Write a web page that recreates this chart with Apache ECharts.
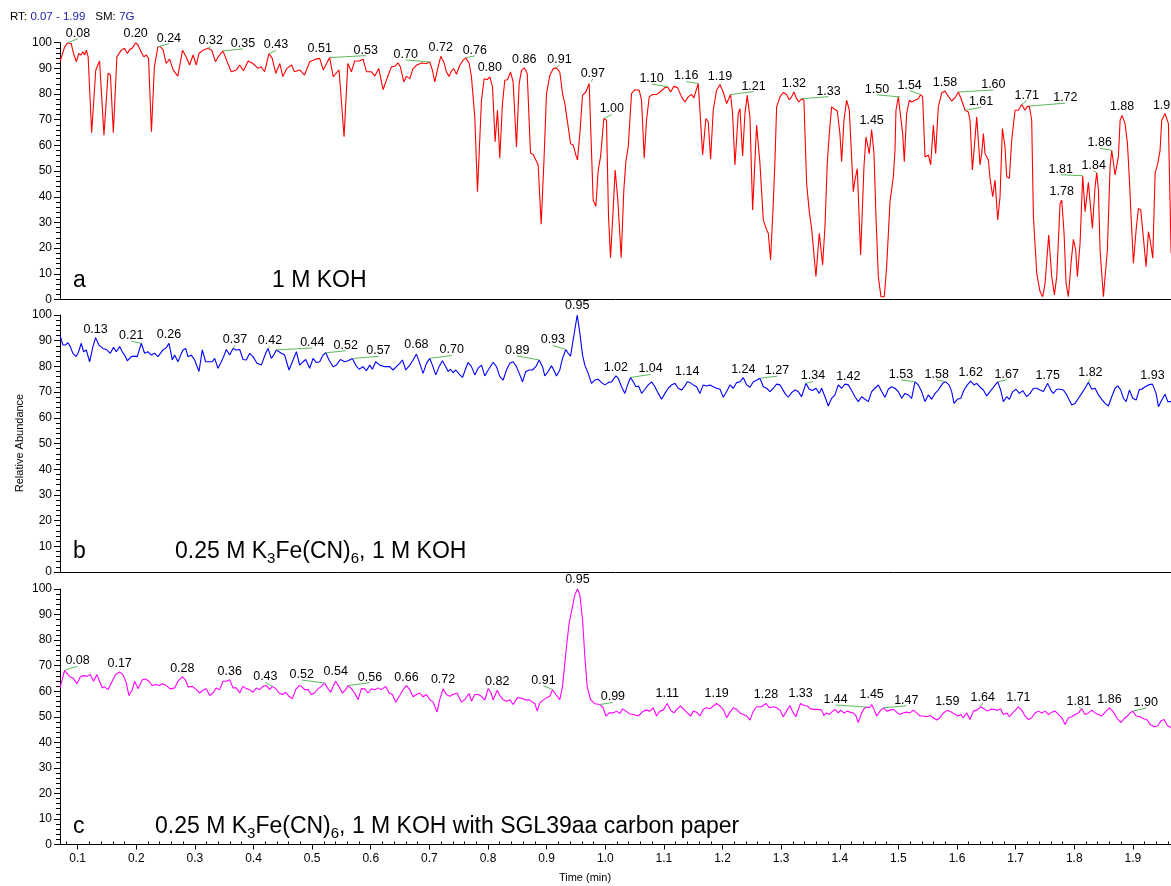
<!DOCTYPE html>
<html>
<head>
<meta charset="utf-8">
<script src="https://cdn.jsdelivr.net/npm/echarts@6/dist/echarts.min.js"></script>
<style>
  html, body { margin: 0; padding: 0; background: #fff; }
  #chart { width: 1171px; height: 886px; }
</style>
</head>
<body>
<div id="chart"></div>
<script>
// Retention time window shown on the time axis (min)
const X_MIN = 0.07;
const X_MAX = 1.965;

// Time-axis tick labels (min)
const xTickValues = [0.1, 0.2, 0.3, 0.4, 0.5, 0.6, 0.7, 0.8, 0.9, 1.0, 1.1, 1.2, 1.3, 1.4, 1.5, 1.6, 1.7, 1.8, 1.9];

// Trace a: 1 M KOH  [time (min), relative abundance (%)]
const traceA = [
  [0.070, 92.6],[0.078, 98.4],[0.0835, 100],[0.089, 99.7],[0.093, 95.8],[0.098, 92.6],[0.102, 95.8],[0.106, 95.2],
  [0.109, 96.5],[0.112, 95.2],[0.115, 97.1],[0.118, 94.5],[0.124, 64.9],[0.131, 89.4],[0.1375, 92.9],[0.145, 64.0],
  [0.152, 88.1],[0.156, 87.4],[0.161, 64.9],[0.167, 94.5],[0.1745, 97.1],[0.180, 97.8],[0.185, 95.8],[0.189, 97.4],
  [0.193, 97.8],[0.199, 100],[0.203, 99.1],[0.209, 96.1],[0.213, 94.5],[0.217, 95.2],[0.221, 93.9],[0.226, 65.3],
  [0.231, 90.6],[0.237, 98.4],[0.2415, 98.4],[0.246, 97.1],[0.251, 91.9],[0.257, 93.6],[0.263, 89.4],[0.271, 87.0],
  [0.279, 97.1],[0.285, 94.5],[0.291, 91.3],[0.297, 95.2],[0.3025, 91.3],[0.307, 95.8],[0.314, 97.1],[0.322, 97.8],
  [0.329, 97.1],[0.335, 92.6],[0.342, 95.2],[0.348, 96.8],[0.354, 93.2],[0.362, 88.7],[0.371, 89.4],[0.3765, 91.3],
  [0.383, 89.1],[0.391, 92.9],[0.399, 91.9],[0.408, 90.0],[0.413, 90.6],[0.419, 88.7],[0.4265, 95.8],[0.432, 93.9],
  [0.438, 88.1],[0.445, 91.9],[0.450, 86.8],[0.457, 90.0],[0.465, 91.3],[0.470, 88.7],[0.479, 89.4],[0.487, 87.4],
  [0.496, 92.6],[0.506, 93.6],[0.513, 93.9],[0.519, 89.4],[0.530, 94.2],[0.536, 86.8],[0.541, 88.1],[0.546, 89.4],
  [0.5545, 63.4],[0.561, 91.9],[0.567, 88.7],[0.5727, 92.9],[0.581, 92.9],[0.587, 93.6],[0.5926, 88.7],[0.601, 88.7],
  [0.607, 87.0],[0.6137, 90.0],[0.621, 81.7],[0.6296, 87.3],[0.6353, 90.6],[0.641, 90.8],[0.6466, 92.1],[0.6506, 90.6],
  [0.6563, 84.7],[0.6609, 86.9],[0.6666, 86.0],[0.6722, 89.9],[0.6779, 91.2],[0.6865, 92.1],[0.695, 91.9],[0.7007, 92.5],
  [0.7052, 89.3],[0.7092, 84.7],[0.7149, 90.6],[0.7195, 94.7],[0.7246, 92.5],[0.7291, 88.6],[0.7337, 86.9],[0.7377, 89.0],
  [0.7417, 89.9],[0.7462, 87.7],[0.7519, 91.2],[0.7576, 93.2],[0.7622, 94.1],[0.7679, 91.9],[0.7718, 86.7],[0.7775, 71.1],
  [0.7821, 42.0],[0.7889, 77.6],[0.7935, 86.0],[0.7986, 85.6],[0.8031, 86.7],[0.8077, 82.8],[0.8122, 61.4],[0.8162, 73.7],
  [0.8201, 55.0],[0.8247, 76.3],[0.8287, 85.4],[0.8333, 85.6],[0.8384, 88.6],[0.8429, 84.7],[0.8486, 59.4],[0.8532, 84.1],
  [0.8572, 89.3],[0.8618, 90.2],[0.8669, 88.0],[0.8725, 57.0],[0.8771, 56.5],[0.8816, 54.3],[0.8856, 52.4],[0.8907, 29.3],
  [0.8953, 53.0],[0.8998, 80.2],[0.9055, 87.3],[0.9112, 89.9],[0.9168, 90.2],[0.9225, 88.6],[0.9271, 80.2],[0.9311, 76.3],
  [0.9368, 67.2],[0.9408, 60.7],[0.9454, 60.1],[0.9498, 56.3],[0.9527, 54.3],[0.9567, 64.6],[0.9612, 79.5],[0.9669, 80.8],
  [0.9726, 84.1],[0.9754, 84.7],[0.9794, 38.7],[0.984, 36.2],[0.988, 50.4],[0.992, 55.6],[0.9976, 70.5],[1.0021, 69.8],
  [1.0056, 32.3],[1.009, 16.3],[1.0135, 34.9],[1.0169, 50.4],[1.0215, 38.7],[1.0272, 16.3],[1.0317, 42.6],[1.0352, 53.7],
  [1.0392, 59.4],[1.0448, 80.2],[1.0505, 81.7],[1.0579, 81.5],[1.0619, 77.6],[1.0665, 55.0],[1.0704, 69.8],[1.075, 78.9],
  [1.0807, 79.8],[1.0875, 79.8],[1.0932, 80.8],[1.1017, 82.5],[1.1063, 82.8],[1.1114, 80.8],[1.1171, 83.0],[1.1234, 82.5],
  [1.1302, 78.9],[1.1358, 76.9],[1.1415, 78.9],[1.1472, 79.9],[1.1512, 78.5],[1.1586, 84.1],[1.1615, 73.7],[1.1661, 56.3],
  [1.1717, 70.5],[1.1757, 69.2],[1.1797, 54.6],[1.1842, 73.7],[1.1899, 81.5],[1.1956, 83.7],[1.2013, 80.8],[1.207, 76.3],
  [1.2138, 79.8],[1.2172, 72.4],[1.2212, 52.4],[1.2269, 72.4],[1.2298, 74.3],[1.2343, 55.9],[1.2383, 72.4],[1.2422, 79.5],
  [1.2468, 71.1],[1.2514, 34.9],[1.2582, 67.9],[1.2639, 53.0],[1.2696, 31.0],[1.2753, 27.1],[1.2781, 25.8],[1.282, 15.4],
  [1.2866, 37.4],[1.2895, 54.3],[1.2923, 75.0],[1.298, 78.9],[1.3036, 80.6],[1.3093, 79.8],[1.3139, 77.8],[1.3179, 78.9],
  [1.3218, 80.8],[1.3264, 78.2],[1.3304, 76.9],[1.3349, 78.2],[1.3389, 77.6],[1.3435, 45.2],[1.348, 34.2],[1.352, 27.7],
  [1.3548, 27.7],[1.3594, 8.9],[1.3651, 25.8],[1.3708, 13.5],[1.3748, 28.4],[1.3787, 53.0],[1.3822, 64.6],[1.3861, 75.0],
  [1.3901, 74.3],[1.3958, 73.4],[1.4003, 64.6],[1.4032, 53.7],[1.4072, 69.8],[1.4117, 77.6],[1.4163, 73.7],[1.4231, 42.0],
  [1.4259, 46.5],[1.4299, 51.0],[1.4356, 17.3],[1.4413, 51.7],[1.4447, 63.3],[1.4504, 56.8],[1.4544, 66.2],[1.4584, 56.8],
  [1.4618, 32.3],[1.4658, 8.9],[1.4703, 1.1],[1.476, 1.1],[1.48, 12.8],[1.4857, 38.1],[1.4914, 47.8],[1.4942, 58.0],
  [1.4959, 73.7],[1.4999, 78.9],[1.5027, 78.9],[1.5073, 64.6],[1.5101, 53.7],[1.5141, 72.4],[1.5187, 77.6],[1.5226, 76.9],
  [1.5283, 77.6],[1.534, 78.2],[1.538, 79.8],[1.5414, 78.9],[1.5454, 55.5],[1.5511, 56.3],[1.5551, 52.4],[1.5596, 67.9],
  [1.5636, 56.8],[1.5681, 75.0],[1.5738, 80.4],[1.5795, 81.2],[1.5852, 79.1],[1.5909, 77.3],[1.5966, 78.6],[1.6023, 80.8],
  [1.608, 77.6],[1.6137, 73.7],[1.6193, 73.0],[1.6222, 69.8],[1.6262, 50.4],[1.629, 58.0],[1.6336, 71.1],[1.6364, 62.0],
  [1.6393, 52.4],[1.6421, 56.9],[1.645, 64.6],[1.6478, 56.8],[1.6535, 54.3],[1.6563, 47.2],[1.6609, 40.0],[1.6649, 46.5],
  [1.6694, 31.0],[1.6734, 40.0],[1.6774, 66.6],[1.6819, 59.4],[1.6848, 47.8],[1.6893, 47.2],[1.6933, 62.0],[1.699, 73.7],
  [1.7047, 73.7],[1.7104, 75.9],[1.716, 73.7],[1.7189, 75.0],[1.7234, 75.3],[1.7274, 69.8],[1.7303, 32.3],[1.736, 10.2],
  [1.7416, 3.1],[1.7462, 1.1],[1.7502, 6.3],[1.7564, 25.1],[1.7616, 8.9],[1.7661, 1.8],[1.7701, 8.9],[1.7758, 37.4],
  [1.7786, 38.7],[1.7826, 25.8],[1.786, 6.3],[1.79, 1.1],[1.7945, 14.1],[1.7985, 23.4],[1.8025, 19.3],[1.8053, 8.9],
  [1.8099, 21.9],[1.8144, 48.2],[1.8184, 34.2],[1.8213, 34.2],[1.8241, 45.6],[1.827, 45.2],[1.8309, 27.7],[1.8355, 43.9],
  [1.8383, 49.4],[1.8412, 42.6],[1.844, 19.3],[1.8497, 1.1],[1.8526, 1.8],[1.8565, 19.3],[1.8611, 51.7],[1.8639, 58.1],
  [1.8696, 48.5],[1.8753, 55.6],[1.8782, 69.8],[1.8816, 71.7],[1.8867, 68.5],[1.8907, 60.7],[1.8941, 46.5],[1.8969, 32.3],
  [1.9009, 14.1],[1.9055, 27.1],[1.9094, 35.5],[1.9134, 34.9],[1.918, 23.8],[1.9225, 12.8],[1.9265, 26.4],[1.9294, 23.2],
  [1.9339, 16.1],[1.9379, 49.1],[1.9425, 53.0],[1.9464, 58.2],[1.9492, 69.8],[1.9549, 72.4],[1.9606, 68.5],[1.9652, 18.0]
];

// Trace b: 0.25 M K3Fe(CN)6, 1 M KOH
const traceB = [
  [0.070, 92.2],[0.075, 88.3],[0.079, 88.3],[0.0835, 89.2],[0.0875, 87.7],[0.092, 85.1],[0.0977, 83.8],[0.1017, 85.7],
  [0.1063, 89.0],[0.1102, 85.7],[0.1148, 86.4],[0.1205, 81.8],[0.1262, 87.7],[0.1307, 91.2],[0.1364, 88.3],[0.1432, 87.0],
  [0.1489, 86.6],[0.1557, 85.1],[0.1614, 87.4],[0.166, 85.7],[0.1717, 87.7],[0.1762, 85.7],[0.1802, 84.4],[0.1848, 82.2],
  [0.1916, 83.8],[0.1973, 84.0],[0.2018, 83.8],[0.2086, 89.0],[0.2143, 85.1],[0.22, 85.7],[0.2257, 84.4],[0.2314, 85.1],
  [0.2371, 83.8],[0.2456, 86.4],[0.2513, 87.3],[0.2559, 89.0],[0.2615, 82.5],[0.2655, 84.4],[0.2712, 81.8],[0.2758, 84.4],
  [0.2798, 86.4],[0.2843, 87.0],[0.2883, 83.8],[0.294, 84.4],[0.2997, 82.5],[0.3071, 78.0],[0.3127, 86.4],[0.3184, 81.8],
  [0.3241, 81.8],[0.3298, 81.8],[0.3338, 83.1],[0.3395, 79.3],[0.3452, 81.8],[0.3491, 83.8],[0.3537, 86.6],[0.3594, 84.4],
  [0.3651, 87.0],[0.3708, 86.4],[0.3765, 86.6],[0.3821, 82.7],[0.3878, 82.5],[0.3935, 85.1],[0.3992, 83.8],[0.406, 81.2],
  [0.4134, 80.5],[0.4208, 85.1],[0.4248, 87.0],[0.4305, 83.1],[0.4345, 84.4],[0.439, 86.4],[0.4476, 85.1],[0.4532, 84.4],
  [0.4606, 78.6],[0.4663, 81.8],[0.4732, 85.7],[0.4788, 80.5],[0.4845, 81.8],[0.4891, 82.7],[0.4959, 79.3],[0.5016, 83.1],
  [0.5073, 81.5],[0.513, 81.8],[0.5187, 84.4],[0.5232, 85.3],[0.5289, 82.5],[0.5357, 79.9],[0.5414, 80.5],[0.5482, 82.7],
  [0.5556, 81.8],[0.5613, 82.2],[0.5687, 83.1],[0.5744, 80.5],[0.5801, 78.9],[0.5869, 79.9],[0.5926, 78.3],[0.5983, 80.5],
  [0.6028, 78.9],[0.6085, 81.8],[0.6154, 80.5],[0.6239, 79.9],[0.6324, 79.9],[0.6381, 78.6],[0.6438, 79.9],[0.6495, 81.2],
  [0.6541, 82.5],[0.6598, 78.6],[0.6666, 80.5],[0.6722, 82.5],[0.6779, 84.8],[0.6836, 81.2],[0.6893, 77.3],[0.695, 81.2],
  [0.7007, 83.1],[0.7052, 80.5],[0.7109, 76.7],[0.7166, 79.9],[0.7223, 82.2],[0.728, 79.9],[0.732, 78.0],[0.736, 78.9],
  [0.7405, 77.6],[0.7451, 78.6],[0.7508, 77.0],[0.7565, 75.7],[0.7622, 79.3],[0.7662, 81.5],[0.7718, 79.9],[0.7775, 76.7],
  [0.7832, 79.3],[0.7889, 80.5],[0.7946, 76.3],[0.8003, 78.6],[0.8088, 81.6],[0.8145, 79.9],[0.8202, 76.0],[0.8259, 74.7],
  [0.8315, 78.6],[0.8372, 81.2],[0.8429, 81.8],[0.8486, 79.9],[0.8543, 76.7],[0.8588, 74.0],[0.8645, 78.0],[0.8702, 78.6],
  [0.8759, 78.6],[0.8816, 79.9],[0.8873, 82.5],[0.893, 79.9],[0.8969, 76.3],[0.9026, 78.0],[0.9083, 80.2],[0.9123, 78.6],
  [0.9168, 76.3],[0.9225, 78.6],[0.9271, 83.1],[0.9328, 86.6],[0.9368, 85.1],[0.9408, 84.0],[0.9453, 90.3],[0.9522, 100],
  [0.9567, 92.9],[0.9613, 84.4],[0.9652, 80.5],[0.9709, 77.3],[0.9766, 73.4],[0.9823, 74.7],[0.988, 75.0],[0.9937, 73.7],
  [0.9994, 72.8],[1.0051, 73.7],[1.0108, 74.0],[1.0181, 76.3],[1.0221, 75.4],[1.0278, 72.1],[1.0335, 69.5],[1.0381, 72.8],
  [1.0432, 75.7],[1.0477, 74.0],[1.0523, 72.1],[1.0569, 72.4],[1.062, 69.5],[1.0677, 71.1],[1.0734, 72.8],[1.0791, 74.0],
  [1.0848, 72.1],[1.0905, 69.5],[1.0961, 67.2],[1.1018, 69.5],[1.1075, 71.5],[1.1132, 72.8],[1.1189, 73.4],[1.1246, 71.5],
  [1.1302, 70.8],[1.1359, 72.4],[1.1399, 74.0],[1.1445, 73.7],[1.1502, 72.8],[1.1559, 72.1],[1.1615, 69.5],[1.1672, 72.8],
  [1.1729, 72.4],[1.1786, 72.8],[1.1843, 72.1],[1.19, 71.5],[1.1957, 71.1],[1.2014, 68.0],[1.2071, 70.2],[1.2127, 72.8],
  [1.2184, 71.5],[1.2241, 73.7],[1.2298, 74.0],[1.2355, 75.6],[1.2412, 72.8],[1.2469, 71.9],[1.2526, 74.0],[1.2582, 74.6],
  [1.2639, 75.4],[1.2696, 72.1],[1.2753, 71.5],[1.281, 70.2],[1.2867, 71.5],[1.2924, 73.1],[1.2981, 72.8],[1.3008, 72.4],
  [1.3065, 69.5],[1.3122, 68.0],[1.3179, 69.8],[1.3236, 70.8],[1.3292, 70.2],[1.3349, 68.2],[1.3423, 73.4],[1.348, 71.1],
  [1.3537, 70.6],[1.3594, 71.5],[1.3651, 69.5],[1.3691, 71.5],[1.3748, 68.2],[1.3804, 64.6],[1.3861, 67.6],[1.3918, 68.9],
  [1.3975, 72.8],[1.4032, 71.5],[1.4089, 73.1],[1.4146, 72.8],[1.4203, 70.6],[1.4259, 68.2],[1.4316, 66.3],[1.4373, 68.2],
  [1.443, 67.2],[1.4487, 66.3],[1.4544, 70.2],[1.4601, 71.5],[1.4658, 72.8],[1.4715, 70.2],[1.4771, 68.0],[1.4828, 71.1],
  [1.4885, 72.1],[1.4942, 71.5],[1.4999, 70.2],[1.5056, 67.6],[1.5113, 69.5],[1.517, 68.9],[1.5226, 67.6],[1.5283, 74.0],
  [1.534, 72.8],[1.5397, 70.2],[1.5454, 66.3],[1.5511, 68.9],[1.5568, 67.2],[1.5625, 69.5],[1.5681, 70.8],[1.5756, 73.4],
  [1.5807, 74.0],[1.5864, 72.8],[1.5909, 70.2],[1.5949, 65.6],[1.6006, 67.2],[1.6063, 67.6],[1.612, 70.8],[1.6176, 72.8],
  [1.6233, 74.3],[1.629, 72.8],[1.6336, 73.4],[1.6393, 71.9],[1.645, 70.8],[1.6506, 68.5],[1.6563, 70.2],[1.662, 71.9],
  [1.6694, 74.0],[1.6745, 70.8],[1.6791, 66.3],[1.6848, 68.2],[1.6893, 67.2],[1.695, 70.2],[1.7007, 71.1],[1.7064, 69.5],
  [1.7121, 70.6],[1.7189, 68.2],[1.7246, 69.5],[1.7303, 71.5],[1.736, 71.5],[1.7416, 70.8],[1.7473, 70.2],[1.7547, 73.4],
  [1.7604, 70.6],[1.7644, 69.5],[1.7701, 71.1],[1.7758, 71.1],[1.7815, 70.8],[1.7872, 68.9],[1.7957, 65.0],[1.8014, 65.6],
  [1.8071, 67.6],[1.8127, 69.5],[1.8184, 71.5],[1.8241, 73.8],[1.8298, 71.1],[1.8355, 71.5],[1.8412, 68.9],[1.8469, 67.2],
  [1.8526, 65.6],[1.8582, 64.6],[1.8639, 68.2],[1.8696, 71.5],[1.8742, 72.4],[1.8793, 70.8],[1.8838, 67.6],[1.8884, 66.3],
  [1.8941, 70.8],[1.8998, 67.6],[1.9055, 66.9],[1.9112, 71.1],[1.9151, 71.1],[1.9197, 71.9],[1.9265, 72.8],[1.9333, 73.1],
  [1.9396, 69.5],[1.9436, 64.3],[1.9492, 66.9],[1.9549, 69.2],[1.9595, 66.3],[1.9652, 66.3]
];

// Trace c: 0.25 M K3Fe(CN)6, 1 M KOH with SGL39aa carbon paper
const traceC = [
  [0.070, 61.3],[0.0738, 64.5],[0.0778, 68.2],[0.0835, 66.5],[0.0875, 65.6],[0.092, 65.2],[0.0989, 62.9],[0.1046, 65.6],
  [0.1102, 66.1],[0.1159, 65.8],[0.1216, 66.5],[0.1273, 63.9],[0.133, 66.5],[0.1375, 63.9],[0.1421, 61.3],[0.1461, 61.7],
  [0.1518, 60.6],[0.1575, 63.2],[0.1648, 66.5],[0.1717, 67.5],[0.1774, 66.5],[0.1831, 63.2],[0.1876, 58.3],[0.1933, 60.6],
  [0.1973, 63.9],[0.203, 61.0],[0.2104, 64.5],[0.216, 64.8],[0.2217, 63.9],[0.2274, 62.2],[0.2331, 62.6],[0.2388, 62.2],
  [0.2445, 62.9],[0.2513, 62.2],[0.2581, 60.9],[0.2655, 61.3],[0.2712, 63.9],[0.2786, 65.6],[0.2843, 64.3],[0.2883, 61.7],
  [0.2957, 61.9],[0.3025, 60.6],[0.3082, 59.3],[0.315, 60.6],[0.3196, 61.0],[0.3253, 58.3],[0.3309, 59.3],[0.3366, 61.3],
  [0.3423, 60.6],[0.348, 63.9],[0.3537, 63.9],[0.3594, 64.5],[0.3651, 61.3],[0.3708, 61.3],[0.3765, 59.3],[0.3821, 61.9],
  [0.3878, 61.0],[0.3935, 60.6],[0.3992, 59.6],[0.4049, 61.3],[0.4106, 60.6],[0.4163, 61.9],[0.422, 62.2],[0.4277, 60.6],
  [0.4322, 61.9],[0.4379, 61.0],[0.4436, 59.3],[0.4493, 58.7],[0.455, 59.6],[0.4606, 58.0],[0.4663, 57.0],[0.472, 60.6],
  [0.4777, 62.2],[0.4817, 61.9],[0.4874, 60.6],[0.4931, 60.6],[0.4988, 58.7],[0.5044, 59.3],[0.5101, 60.9],[0.5158, 61.9],
  [0.5215, 63.2],[0.5261, 61.3],[0.5318, 59.6],[0.5357, 61.9],[0.5403, 63.9],[0.546, 61.7],[0.5517, 59.3],[0.5573, 60.6],
  [0.5613, 62.2],[0.567, 61.0],[0.5727, 59.3],[0.5784, 56.7],[0.5841, 61.0],[0.5898, 60.9],[0.5955, 59.3],[0.6011, 60.9],
  [0.6068, 60.6],[0.6125, 61.3],[0.6182, 60.6],[0.6256, 61.9],[0.6313, 59.3],[0.637, 58.7],[0.6427, 55.7],[0.6495, 58.3],
  [0.6552, 60.6],[0.6609, 62.2],[0.6666, 60.6],[0.6722, 57.8],[0.6779, 58.7],[0.6836, 59.3],[0.6893, 57.8],[0.695, 58.7],
  [0.7007, 56.7],[0.7064, 55.7],[0.7132, 51.8],[0.7177, 56.7],[0.7234, 60.9],[0.7291, 58.7],[0.7348, 58.0],[0.7405, 58.7],
  [0.7473, 59.3],[0.7547, 55.7],[0.7604, 56.7],[0.7678, 59.1],[0.7718, 56.1],[0.7775, 58.7],[0.7832, 58.7],[0.7889, 58.0],
  [0.7946, 56.5],[0.8003, 61.0],[0.8048, 59.6],[0.8088, 56.5],[0.8157, 60.4],[0.8202, 58.3],[0.8259, 56.7],[0.8315, 56.1],
  [0.8372, 56.7],[0.8429, 54.8],[0.8498, 57.4],[0.8543, 57.4],[0.86, 57.0],[0.8657, 56.5],[0.8702, 56.7],[0.8759, 55.7],
  [0.8799, 55.2],[0.8839, 52.2],[0.8884, 55.4],[0.8941, 56.5],[0.8998, 57.4],[0.9055, 58.0],[0.91, 60.6],[0.9157, 58.7],
  [0.9225, 56.7],[0.9271, 61.9],[0.9339, 77.5],[0.9384, 86.6],[0.9424, 91.2],[0.9481, 97.7],[0.9527, 100],[0.9567, 97.7],
  [0.9613, 87.9],[0.9652, 73.6],[0.9692, 61.9],[0.9749, 56.7],[0.9823, 55.1],[0.9909, 54.8],[0.9966, 53.5],[1.0011, 50.3],
  [1.0068, 51.5],[1.0136, 51.5],[1.0193, 52.2],[1.025, 51.3],[1.0296, 53.1],[1.0353, 52.2],[1.041, 51.2],[1.0478, 50.9],
  [1.0563, 50.3],[1.0648, 52.2],[1.0704, 52.6],[1.0761, 52.2],[1.0818, 53.5],[1.0875, 50.3],[1.0932, 52.2],[1.0989, 52.6],
  [1.1057, 55.2],[1.1114, 52.6],[1.1171, 51.5],[1.1228, 53.1],[1.1285, 54.2],[1.1342, 52.9],[1.1399, 51.5],[1.1456, 50.3],
  [1.1502, 52.2],[1.1559, 51.8],[1.1615, 50.3],[1.1672, 52.9],[1.1729, 53.5],[1.1786, 53.1],[1.1843, 54.2],[1.19, 55.2],
  [1.1957, 54.2],[1.2014, 52.9],[1.2071, 49.6],[1.2127, 51.8],[1.2184, 53.5],[1.2241, 52.9],[1.2298, 51.5],[1.2355, 50.9],
  [1.2412, 50.3],[1.2469, 48.7],[1.2526, 52.2],[1.2582, 53.9],[1.2668, 53.9],[1.2742, 55.2],[1.2799, 53.5],[1.2867, 53.9],
  [1.2924, 53.5],[1.2981, 52.6],[1.3036, 50.0],[1.3093, 52.2],[1.315, 54.4],[1.3207, 51.5],[1.3253, 50.0],[1.3292, 52.9],
  [1.3332, 55.2],[1.3389, 54.4],[1.3446, 54.2],[1.3503, 53.1],[1.3577, 52.9],[1.3634, 52.9],[1.3691, 52.6],[1.373, 50.5],
  [1.3776, 51.5],[1.3822, 50.9],[1.3861, 51.8],[1.3918, 52.9],[1.3975, 51.5],[1.4015, 52.6],[1.4072, 51.5],[1.4129, 52.2],
  [1.4174, 51.8],[1.4231, 51.5],[1.4276, 50.3],[1.4316, 47.7],[1.4373, 51.5],[1.4413, 53.1],[1.4458, 53.8],[1.4504, 53.5],
  [1.4544, 54.8],[1.4584, 52.9],[1.4629, 50.3],[1.4686, 52.2],[1.4743, 53.5],[1.48, 52.2],[1.4857, 52.6],[1.4914, 52.9],
  [1.497, 51.8],[1.5027, 50.9],[1.5084, 51.5],[1.5141, 51.8],[1.5198, 51.5],[1.5255, 52.6],[1.5312, 51.5],[1.5369, 50.3],
  [1.5426, 50.3],[1.5482, 50.0],[1.5539, 50.5],[1.5596, 49.6],[1.5653, 48.7],[1.571, 49.6],[1.5767, 51.5],[1.5835, 52.5],
  [1.5909, 51.8],[1.5966, 50.9],[1.6023, 50.3],[1.6063, 50.9],[1.6108, 49.6],[1.6165, 51.5],[1.6222, 48.9],[1.6279, 52.2],
  [1.6336, 52.6],[1.6404, 53.9],[1.6461, 53.1],[1.6518, 52.2],[1.6575, 52.9],[1.6632, 52.9],[1.6688, 52.5],[1.6745, 53.1],
  [1.6791, 50.9],[1.6848, 51.5],[1.6893, 50.0],[1.695, 51.5],[1.7007, 52.9],[1.7047, 53.9],[1.7104, 52.6],[1.716, 50.3],
  [1.7217, 48.9],[1.7274, 49.6],[1.7331, 51.5],[1.7388, 52.2],[1.7445, 51.5],[1.7502, 52.2],[1.7559, 50.9],[1.7616, 51.8],
  [1.7672, 52.2],[1.7729, 50.9],[1.7786, 49.6],[1.7843, 47.0],[1.79, 49.6],[1.7957, 50.0],[1.8014, 50.9],[1.8071, 51.5],
  [1.8127, 53.1],[1.8184, 50.9],[1.8241, 51.5],[1.8298, 52.6],[1.8355, 51.5],[1.8412, 50.9],[1.8469, 50.3],[1.8526, 51.8],
  [1.86, 53.5],[1.8657, 52.2],[1.8725, 49.6],[1.8793, 47.7],[1.885, 49.2],[1.8907, 50.3],[1.8952, 51.5],[1.8998, 52.2],
  [1.9055, 50.3],[1.9123, 50.0],[1.918, 49.2],[1.9237, 48.9],[1.9294, 47.0],[1.9362, 46.1],[1.9419, 46.4],[1.9476, 48.3],
  [1.9532, 48.9],[1.9589, 46.6],[1.9652, 45.7]
];

// Apex annotations: [label text, apex retention time (min)]
const peaksA = [
  ['0.08', 0.0835], ['0.20', 0.199], ['0.24', 0.237], ['0.32', 0.322], ['0.35', 0.348], ['0.43', 0.4265],
  ['0.51', 0.513], ['0.53', 0.530], ['0.70', 0.7007], ['0.72', 0.7195], ['0.76', 0.7622], ['0.80', 0.8031],
  ['0.86', 0.8618], ['0.91', 0.9168], ['0.97', 0.9754], ['1.00', 0.9976], ['1.10', 1.1063], ['1.16', 1.1586],
  ['1.19', 1.1956], ['1.21', 1.2138], ['1.32', 1.3218], ['1.33', 1.3349], ['1.45', 1.4544], ['1.50', 1.5027],
  ['1.54', 1.538], ['1.58', 1.5795], ['1.60', 1.6023], ['1.61', 1.6137], ['1.71', 1.7104], ['1.72', 1.7234],
  ['1.78', 1.7786], ['1.81', 1.8144], ['1.84', 1.8383], ['1.86', 1.8639], ['1.88', 1.8816], ['1.95', 1.9549]
];
const peaksB = [
  ['0.13', 0.1307], ['0.21', 0.2086], ['0.26', 0.2559], ['0.37', 0.3651], ['0.42', 0.4248], ['0.44', 0.439],
  ['0.52', 0.5232], ['0.57', 0.5687], ['0.68', 0.6779], ['0.70', 0.7007], ['0.89', 0.8873], ['0.93', 0.9328],
  ['0.95', 0.9522], ['1.02', 1.0181], ['1.04', 1.0432], ['1.14', 1.1399], ['1.24', 1.2355], ['1.27', 1.2639],
  ['1.34', 1.3423], ['1.42', 1.4146], ['1.53', 1.5283], ['1.58', 1.5807], ['1.62', 1.6233], ['1.67', 1.6694],
  ['1.75', 1.7547], ['1.82', 1.8241], ['1.93', 1.9333]
];
const peaksC = [
  ['0.08', 0.0778], ['0.17', 0.1717], ['0.28', 0.2786], ['0.36', 0.3594], ['0.43', 0.4322], ['0.52', 0.5215],
  ['0.54', 0.5403], ['0.56', 0.5613], ['0.66', 0.6609], ['0.72', 0.7234], ['0.82', 0.8157], ['0.91', 0.91],
  ['0.95', 0.9527], ['0.99', 0.9909], ['1.11', 1.1057], ['1.19', 1.19], ['1.28', 1.2742], ['1.33', 1.3332],
  ['1.44', 1.4458], ['1.45', 1.4544], ['1.47', 1.4743], ['1.59', 1.5835], ['1.64', 1.6404], ['1.71', 1.7047],
  ['1.81', 1.8127], ['1.86', 1.86], ['1.90', 1.8998]
];

// Label placement: pixel shift of each label's baseline centre from its apex
const labelShiftA = {
  '0.08': [10, -5], '0.20': [0, -5], '0.24': [11, -4], '0.32': [3, -3], '0.35': [20, -3], '0.43': [7, -4],
  '0.51': [0, -5], '0.53': [36, -3], '0.70': [-24, -3], '0.72': [0, -4], '0.76': [9, -3], '0.80': [0, -5],
  '0.86': [0, -4], '0.91': [3, -4], '0.97': [2, -4], '1.00': [8, -5], '1.10': [-16, -4], '1.16': [-12, -3],
  '1.19': [0, -4], '1.21': [23, -4], '1.32': [0, -4], '1.33': [27, -3], '1.45': [0, -4], '1.50': [-23, -3],
  '1.54': [-11, -5], '1.58': [0, -4], '1.60': [35, -3], '1.61': [16, -4], '1.71': [5, -5], '1.72': [36, -4],
  '1.78': [0, -4], '1.81': [-22, -2], '1.84': [-3, -3], '1.86': [-12, -3], '1.88': [0, -4], '1.95': [0, -4]
};
const labelShiftB = {
  '0.13': [0, -4], '0.21': [-10, -3], '0.26': [0, -4], '0.37': [2, -4], '0.42': [2, -3], '0.44': [36, -3],
  '0.52': [20, -3], '0.57': [26, -3], '0.68': [0, -5], '0.70': [22, -4], '0.89': [-22, -5], '0.93': [-13, -5],
  '0.95': [0, -5], '1.02': [0, -4], '1.04': [20, -4], '1.14': [0, -6], '1.24': [0, -4], '1.27': [17, -3],
  '1.34': [7, -3], '1.42': [0, -4], '1.53': [-14, -3], '1.58': [-9, -3], '1.62': [0, -4], '1.67': [9, -3],
  '1.75': [0, -3], '1.82': [2, -5], '1.93': [0, -4]
};
const labelShiftC = {
  '0.08': [13, -5], '0.17': [0, -4], '0.28': [0, -4], '0.36': [0, -4], '0.43': [-7, -5], '0.52': [-23, -4],
  '0.54': [0, -5], '0.56': [22, -4], '0.66': [0, -4], '0.72': [0, -5], '0.82': [0, -4], '0.91': [-9, -5],
  '0.95': [0, -5], '0.99': [13, -3], '1.11': [0, -5], '1.19': [0, -5], '1.28': [0, -4], '1.33': [0, -5],
  '1.44': [-31, -3], '1.45': [0, -5], '1.47': [23, -3], '1.59': [0, -4], '1.64': [2, -5], '1.71': [0, -5],
  '1.81': [-3, -3], '1.86': [0, -4], '1.90': [13, -4]
};

const FONT = "'Liberation Sans', Arial, Helvetica, sans-serif";
const GRIDS = [
  { top: 42.7, height: 256.8 },
  { top: 315, height: 257 },
  { top: 589, height: 255.5 }
];

// Apex point of each annotation, taken from the trace itself
function apexItems(trace, peaks, shifts) {
  return peaks.map(([txt, t]) => {
    let best = trace[0];
    for (const p of trace) if (Math.abs(p[0] - t) < Math.abs(best[0] - t)) best = p;
    const s = shifts[txt] || [0, -4];
    return [best[0], best[1], s[0], s[1]];
  });
}

function apexRenderer(peaks) {
  return function (params, api) {
    const p = api.coord([api.value(0), api.value(1)]);
    const dx = api.value(2), dy = api.value(3);
    const lx = p[0] + dx, ly = p[1] + dy;
    const kids = [];
    if (dx !== 0) {
      kids.push({
        type: 'line',
        shape: { x1: p[0], y1: p[1], x2: lx, y2: ly + 1 },
        style: { stroke: '#5cb85c', lineWidth: 1 }
      });
    }
    kids.push({
      type: 'text',
      x: lx, y: ly + 2,
      style: {
        text: peaks[params.dataIndex][0],
        fill: '#000',
        font: '12.5px ' + FONT,
        align: 'center',
        verticalAlign: 'bottom'
      }
    });
    return { type: 'group', children: kids };
  };
}

const axisLineStyle = { color: '#000', width: 1 };

const xAxes = [0, 1, 2].map(i => ({
  gridIndex: i,
  type: 'value',
  min: X_MIN,
  max: X_MAX,
  axisLine: { show: true, onZero: false, lineStyle: axisLineStyle },
  axisTick: i === 2
    ? { show: true, length: 5, customValues: xTickValues, lineStyle: axisLineStyle }
    : { show: false },
  axisLabel: i === 2
    ? { show: true, customValues: xTickValues, formatter: v => v.toFixed(1),
        color: '#000', fontSize: 12, fontFamily: FONT, margin: 8 }
    : { show: false },
  splitLine: { show: false }
}));

// Minor ticks on the time axis
const minorXTicks = [];
for (let k = 4; k <= 98; k++) if (k % 5 !== 0) minorXTicks.push(k / 50);
xAxes.push({
  gridIndex: 2, type: 'value', min: X_MIN, max: X_MAX,
  axisLine: { show: false },
  axisTick: { show: true, length: 3, customValues: minorXTicks, lineStyle: axisLineStyle },
  axisLabel: { show: false },
  splitLine: { show: false }
});

const yAxes = [0, 1, 2].map(i => ({
  gridIndex: i,
  type: 'value',
  min: 0, max: 100, interval: 10,
  axisLine: { show: true, lineStyle: axisLineStyle },
  axisTick: { show: true, length: 6, lineStyle: axisLineStyle },
  minorTick: { show: true, splitNumber: 5, length: 4, lineStyle: axisLineStyle },
  axisLabel: { color: '#000', fontSize: 12, fontFamily: FONT, margin: 8 },
  splitLine: { show: false }
}));

const traces = [
  { data: traceA, color: '#ff0000', peaks: peaksA, shifts: labelShiftA },
  { data: traceB, color: '#0000ff', peaks: peaksB, shifts: labelShiftB },
  { data: traceC, color: '#ff00ff', peaks: peaksC, shifts: labelShiftC }
];

const series = [];
traces.forEach((tr, i) => {
  series.push({
    type: 'line',
    xAxisIndex: i, yAxisIndex: i,
    data: tr.data,
    showSymbol: false,
    symbol: 'none',
    lineStyle: { color: tr.color, width: 1.1 },
    animation: false,
    z: 2
  });
  series.push({
    type: 'custom',
    xAxisIndex: i, yAxisIndex: i,
    data: apexItems(tr.data, tr.peaks, tr.shifts),
    encode: { x: 0, y: 1 },
    renderItem: apexRenderer(tr.peaks),
    clip: false,
    silent: true,
    animation: false,
    z: 3
  });
});

// Panel captions (sample descriptions), with subscripts
const bigFont = 23;
const richPanel = {
  n: { fontSize: bigFont, fontFamily: FONT, color: '#000', lineHeight: 30 },
  s: { fontSize: 15, fontFamily: FONT, color: '#000', lineHeight: 30, verticalAlign: 'bottom' }
};

function panelText(x, baseline, text) {
  return {
    type: 'text', left: x, top: baseline - 18,
    style: { text: text, rich: richPanel }
  };
}

const graphic = [
  {
    type: 'text', left: 10, top: 11,
    style: {
      text: '{k|RT:} {b|0.07 - 1.99}   {k|SM:} {b|7G}',
      rich: {
        k: { fontSize: 11.5, fontFamily: FONT, fill: '#000', color: '#000' },
        b: { fontSize: 11.5, fontFamily: FONT, fill: '#1a1aa8', color: '#1a1aa8' }
      }
    }
  },
  panelText(73, 286.7, '{n|a}'),
  panelText(272, 286.7, '{n|1 M KOH}'),
  panelText(73, 558, '{n|b}'),
  panelText(175, 558, '{n|0.25 M K}{s|3}{n|Fe(CN)}{s|6}{n|, 1 M KOH}'),
  panelText(73, 833, '{n|c}'),
  panelText(155, 833, '{n|0.25 M K}{s|3}{n|Fe(CN)}{s|6}{n|, 1 M KOH with SGL39aa carbon paper}'),
  {
    type: 'text', x: 20, y: 443, rotation: Math.PI / 2,
    style: { text: 'Relative Abundance', font: '11px ' + FONT, fill: '#000', align: 'center', verticalAlign: 'middle' }
  },
  {
    type: 'text', x: 585, y: 878,
    style: { text: 'Time (min)', font: '11px ' + FONT, fill: '#000', align: 'center', verticalAlign: 'middle' }
  }
];

const chart = echarts.init(document.getElementById('chart'), null, { renderer: 'canvas' });
chart.setOption({
  animation: false,
  backgroundColor: '#fff',
  grid: GRIDS.map(g => ({ left: 60, right: 0, top: g.top, height: g.height, containLabel: false })),
  xAxis: xAxes,
  yAxis: yAxes,
  series: series,
  graphic: graphic
});
</script>
</body>
</html>
